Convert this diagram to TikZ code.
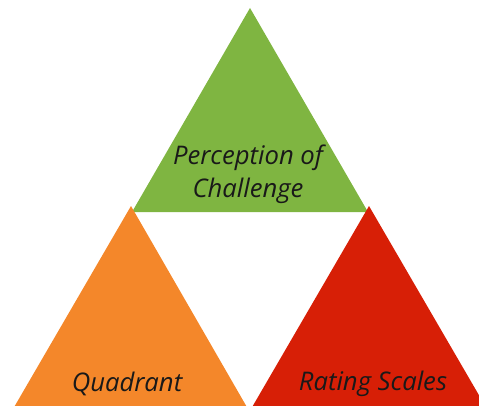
\documentclass[tikz,border=0pt]{standalone}
\usepackage{fontspec}
\setmainfont{Open Sans}
\usepackage{tikz}
\usetikzlibrary{positioning, calc}
\definecolor{vert}{RGB}{127,181,65}
\definecolor{orange}{RGB}{244,135,42}
\definecolor{rouge}{RGB}{215,31,6}

\begin{document}
\begin{tikzpicture}[x=0.02cm, y=-0.02cm,
		etiquette/.style={font=\itshape\fontsize{14.6}{18.7}\selectfont, text=black!90, align=center, inner sep=0pt}]
				\useasboundingbox (0,0) rectangle (479,405);
				\clip (0,0) rectangle (479,405);
				% triangle du haut
				\fill[vert] (250,8) -- (368,212) -- (132,212) -- cycle;
				% triangles du bas
				\fill[orange] (131,206) -- (248,409) -- (13,409) -- cycle;
				\fill[rouge] (369,206) -- (487,409) -- (251,409) -- cycle;
				% légendes
				\node[etiquette] (defi) at (248,174) {Perception of\\Challenge};
				\node[etiquette] (quadrant) at (127,384) {Quadrant};
				\node[etiquette] (echelles) at (373,384) {Rating Scales};
			\end{tikzpicture}
\end{document}
